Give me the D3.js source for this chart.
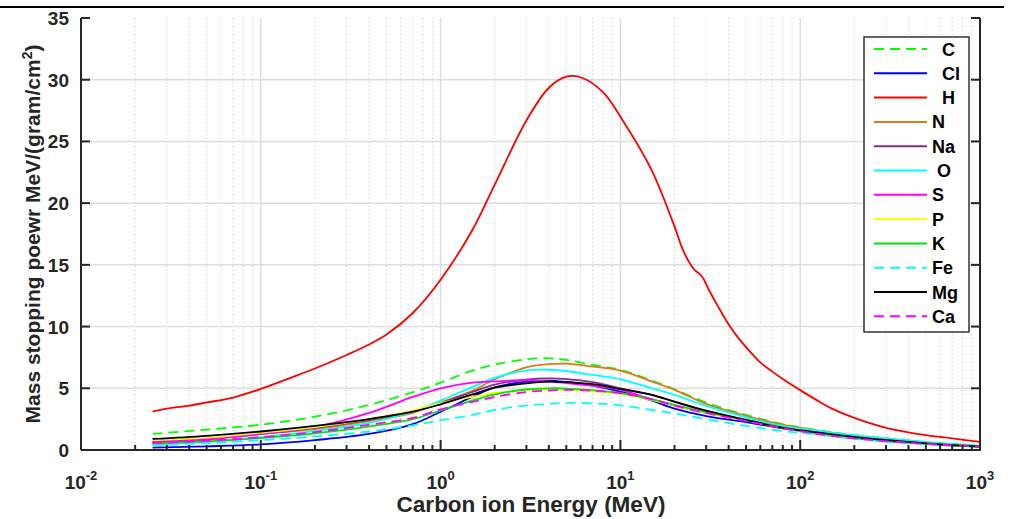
<!DOCTYPE html>
<html>
<head>
<meta charset="utf-8">
<script src="https://cdn.jsdelivr.net/npm/d3@7"></script>
<style>
  html, body { margin: 0; padding: 0; background: #fff; }
  svg { display: block; font-family: "Liberation Sans", Arial, sans-serif; }
  .lbl { white-space: pre; }
</style>
</head>
<body>
<svg id="chart" width="1017" height="519"></svg>
<script>
// Energy grid (MeV) for the hydrogen curve
const energyH = [0.025, 0.03, 0.04, 0.05, 0.07, 0.1, 0.15, 0.2, 0.3, 0.4, 0.5, 0.7, 1, 1.5, 2, 3, 4, 5, 6, 8, 10, 15, 20, 22.3, 25.3, 28.4, 31.5, 35.8, 40.7, 46.3, 52.6, 60, 70, 80, 100, 130, 150, 200, 300, 500, 700, 1000];
const stopH   = [3.1, 3.35, 3.6, 3.85, 4.25, 4.95, 5.9, 6.6, 7.7, 8.55, 9.35, 11.1, 13.8, 17.8, 21.5, 26.7, 29.35, 30.25, 30.2, 29.0, 27.0, 22.6, 18.1, 16.2, 14.75, 14.05, 12.8, 11.35, 10.0, 8.9, 7.97, 7.1, 6.35, 5.75, 4.85, 3.85, 3.35, 2.6, 1.8, 1.2, 0.95, 0.65];

// Energy grid (MeV) for the other elements
const energy = [0.025, 0.05, 0.1, 0.2, 0.4, 0.7, 1, 1.5, 2, 3, 4, 5, 7, 10, 15, 20, 30, 50, 80, 120, 200, 350, 600, 1000];
const stopC  = [1.3, 1.65, 2.05, 2.7, 3.65, 4.68, 5.46, 6.43, 6.92, 7.35, 7.43, 7.3, 6.9, 6.5, 5.62, 4.92, 3.84, 2.84, 2.1, 1.65, 1.2, 0.85, 0.55, 0.35];
const stopCl = [0.2, 0.3, 0.45, 0.8, 1.3, 2.1, 3.1, 4.3, 5.08, 5.54, 5.62, 5.51, 5.22, 4.73, 4.0, 3.35, 2.75, 2.25, 1.75, 1.35, 0.95, 0.65, 0.42, 0.27];
const stopN  = [0.7, 0.95, 1.3, 1.7, 2.35, 3.0, 3.85, 4.8, 5.73, 6.7, 6.95, 7.0, 6.76, 6.43, 5.54, 4.87, 3.73, 2.76, 2.05, 1.62, 1.15, 0.8, 0.5, 0.3];
const stopNa = [0.65, 0.9, 1.3, 1.8, 2.45, 3.1, 3.8, 4.7, 5.3, 5.7, 5.8, 5.75, 5.5, 5.0, 4.45, 3.9, 3.15, 2.45, 1.8, 1.42, 1.02, 0.7, 0.45, 0.28];
const stopO  = [0.42, 0.65, 1.05, 1.55, 2.2, 3.1, 4.0, 5.1, 5.85, 6.45, 6.5, 6.4, 6.08, 5.73, 5.0, 4.46, 3.57, 2.65, 1.95, 1.6, 1.2, 0.85, 0.55, 0.35];
const stopS  = [0.6, 0.85, 1.3, 1.85, 3.0, 4.3, 5.0, 5.46, 5.56, 5.65, 5.56, 5.42, 5.19, 4.87, 4.1, 3.6, 3.0, 2.4, 1.8, 1.4, 1.0, 0.7, 0.45, 0.28];
const stopP  = [0.78, 1.0, 1.4, 1.85, 2.5, 3.2, 3.8, 4.3, 4.6, 4.85, 4.9, 4.88, 4.75, 4.55, 4.05, 3.6, 3.0, 2.4, 1.8, 1.4, 1.0, 0.7, 0.45, 0.28];
const stopK  = [0.5, 0.7, 0.97, 1.35, 1.9, 2.5, 3.2, 4.0, 4.5, 4.9, 5.0, 4.98, 4.85, 4.6, 4.1, 3.65, 3.05, 2.45, 1.85, 1.45, 1.05, 0.72, 0.47, 0.3];
const stopFe = [0.4, 0.55, 0.8, 1.1, 1.5, 2.0, 2.4, 2.84, 3.24, 3.62, 3.73, 3.81, 3.78, 3.62, 3.24, 2.97, 2.49, 1.95, 1.54, 1.27, 0.9, 0.6, 0.4, 0.25];
const stopMg = [0.9, 1.15, 1.5, 1.95, 2.5, 3.1, 3.7, 4.5, 5.05, 5.4, 5.54, 5.5, 5.33, 4.95, 4.46, 3.92, 3.19, 2.43, 1.8, 1.45, 1.05, 0.72, 0.45, 0.28];
const stopCa = [0.55, 0.75, 1.03, 1.45, 2.05, 2.6, 3.3, 3.9, 4.3, 4.7, 4.82, 4.87, 4.8, 4.6, 4.1, 3.6, 3.0, 2.35, 1.78, 1.35, 0.95, 0.65, 0.43, 0.27];

// Legend names (leading spaces kept as in the legend)
const names = ["  C", "  Cl", "  H", "N", "Na", " O", "S", "P", "K", "Fe", "Mg", "Ca"];

// Axis ticks
const xTicks = [0.01, 0.1, 1, 10, 100, 1000];
const xTickExp = ["-2", "-1", "0", "1", "2", "3"];
const yTicks = [0, 5, 10, 15, 20, 25, 30, 35];

const xTitle = "Carbon ion Energy (MeV)";
const yTitle = "Mass stopping poewr MeV/(gram/cm";

// Series table built from the arrays above
const series = [
  { name: names[0],  x: energy,  y: stopC,  color: "#00ff00", dash: "10,6" },
  { name: names[1],  x: energy,  y: stopCl, color: "#0000ff", dash: null },
  { name: names[2],  x: energyH, y: stopH,  color: "#ff0000", dash: null },
  { name: names[3],  x: energy,  y: stopN,  color: "#dd7b14", dash: null },
  { name: names[4],  x: energy,  y: stopNa, color: "#7e2f8e", dash: null },
  { name: names[5],  x: energy,  y: stopO,  color: "#00ffff", dash: null },
  { name: names[6],  x: energy,  y: stopS,  color: "#ff00ff", dash: null },
  { name: names[7],  x: energy,  y: stopP,  color: "#ffff00", dash: null },
  { name: names[8],  x: energy,  y: stopK,  color: "#00e600", dash: null },
  { name: names[9],  x: energy,  y: stopFe, color: "#00ffff", dash: "10,6" },
  { name: names[10], x: energy,  y: stopMg, color: "#000000", dash: null },
  { name: names[11], x: energy,  y: stopCa, color: "#ff00ff", dash: "10,6" }
];

const svg = d3.select("#chart");
const plot = { left: 81, right: 980, top: 18, bottom: 450 };
const axisColor = "#262626";

const x = d3.scaleLog().domain([0.01, 1000]).range([plot.left, plot.right]);
const y = d3.scaleLinear().domain([0, 35]).range([plot.bottom, plot.top]);

// Rule across the top of the page
svg.append("line")
  .attr("x1", 0).attr("x2", 1004).attr("y1", 7).attr("y2", 7)
  .attr("stroke", "#000").attr("stroke-width", 2);

// Minor vertical grid (dotted)
const minorX = [];
for (let d = -2; d < 3; d++) for (let k = 2; k <= 9; k++) minorX.push(k * Math.pow(10, d));
const grid = svg.append("g");
grid.selectAll("line.minor").data(minorX).join("line")
  .attr("class", "minor")
  .attr("x1", d => x(d)).attr("x2", d => x(d))
  .attr("y1", plot.top).attr("y2", plot.bottom)
  .attr("stroke", "#c4c4c4").attr("stroke-width", 1)
  .attr("stroke-dasharray", "1,3");

// Major grid
grid.selectAll("line.vmajor").data(xTicks.slice(1, -1)).join("line")
  .attr("class", "vmajor")
  .attr("x1", d => x(d)).attr("x2", d => x(d))
  .attr("y1", plot.top).attr("y2", plot.bottom)
  .attr("stroke", "#dedede").attr("stroke-width", 1.5);
grid.selectAll("line.hmajor").data(yTicks.slice(1, -1)).join("line")
  .attr("class", "hmajor")
  .attr("x1", plot.left).attr("x2", plot.right)
  .attr("y1", d => y(d)).attr("y2", d => y(d))
  .attr("stroke", "#dedede").attr("stroke-width", 1.5);

// Curves
svg.append("clipPath").attr("id", "clip")
  .append("rect").attr("x", plot.left).attr("y", plot.top)
  .attr("width", plot.right - plot.left).attr("height", plot.bottom - plot.top);

const line = d3.line().curve(d3.curveCatmullRom.alpha(0.5));
const curves = svg.append("g").attr("clip-path", "url(#clip)");
series.forEach(s => {
  const pts = s.x.map((e, i) => [x(e), y(s.y[i])]);
  curves.append("path")
    .attr("d", line(pts))
    .attr("fill", "none")
    .attr("stroke", s.color)
    .attr("stroke-width", 1.8)
    .attr("stroke-dasharray", s.dash);
});

// Axes: bottom, left and right, ticks pointing inward
const axes = svg.append("g").attr("stroke", axisColor);
axes.append("line").attr("x1", plot.left).attr("x2", plot.right + 1)
  .attr("y1", plot.bottom).attr("y2", plot.bottom).attr("stroke-width", 2);
axes.append("line").attr("x1", plot.left).attr("x2", plot.left)
  .attr("y1", plot.top).attr("y2", plot.bottom).attr("stroke-width", 2);
axes.append("line").attr("x1", plot.right).attr("x2", plot.right)
  .attr("y1", plot.top).attr("y2", plot.bottom).attr("stroke-width", 2);

axes.selectAll("line.xmaj").data(xTicks).join("line")
  .attr("x1", d => x(d)).attr("x2", d => x(d))
  .attr("y1", plot.bottom).attr("y2", plot.bottom - 10).attr("stroke-width", 2);
axes.selectAll("line.xmin").data(minorX).join("line")
  .attr("x1", d => x(d)).attr("x2", d => x(d))
  .attr("y1", plot.bottom).attr("y2", plot.bottom - 5).attr("stroke-width", 2);
axes.selectAll("line.yl").data(yTicks).join("line")
  .attr("x1", plot.left).attr("x2", plot.left + 9)
  .attr("y1", d => y(d)).attr("y2", d => y(d)).attr("stroke-width", 2);
axes.selectAll("line.yr").data(yTicks).join("line")
  .attr("x1", plot.right).attr("x2", plot.right - 9)
  .attr("y1", d => y(d)).attr("y2", d => y(d)).attr("stroke-width", 2);

// Tick labels
const xl = svg.append("g").attr("fill", axisColor).attr("font-weight", "bold");
xTicks.forEach((t, i) => {
  const txt = xl.append("text").attr("x", x(t)).attr("y", 489)
    .attr("text-anchor", "middle").attr("font-size", 19);
  txt.append("tspan").text("10");
  txt.append("tspan").attr("dy", -9).attr("font-size", 13).text(xTickExp[i]);
});
svg.append("g").attr("fill", axisColor).attr("font-weight", "bold")
  .selectAll("text").data(yTicks).join("text")
  .attr("x", 69).attr("y", d => y(d) + 7)
  .attr("text-anchor", "end").attr("font-size", 19)
  .text(d => d);

// Axis titles
svg.append("text").attr("x", 531).attr("y", 512)
  .attr("text-anchor", "middle").attr("font-size", 22.5).attr("font-weight", "bold")
  .attr("fill", axisColor).text(xTitle);
const yt = svg.append("text")
  .attr("transform", "translate(40,234) rotate(-90)")
  .attr("text-anchor", "middle").attr("font-size", 21).attr("font-weight", "bold")
  .attr("fill", axisColor);
yt.append("tspan").text(yTitle);
yt.append("tspan").attr("dy", -8).attr("font-size", 14).text("2");
yt.append("tspan").attr("dy", 8).text(")");

// Legend
const leg = svg.append("g");
leg.append("rect").attr("x", 864).attr("y", 37).attr("width", 105).attr("height", 295)
  .attr("fill", "#fff").attr("stroke", "#333").attr("stroke-width", 1.5);
series.forEach((s, i) => {
  const cy = 49 + i * 24.3;
  leg.append("line").attr("x1", 874).attr("x2", 927).attr("y1", cy).attr("y2", cy)
    .attr("stroke", s.color).attr("stroke-width", 2).attr("stroke-dasharray", s.dash);
  leg.append("text").attr("class", "lbl").attr("x", 932).attr("y", cy + 6.5)
    .attr("font-size", 18).attr("font-weight", "bold").attr("fill", "#000")
    .text(s.name);
});
</script>
</body>
</html>
